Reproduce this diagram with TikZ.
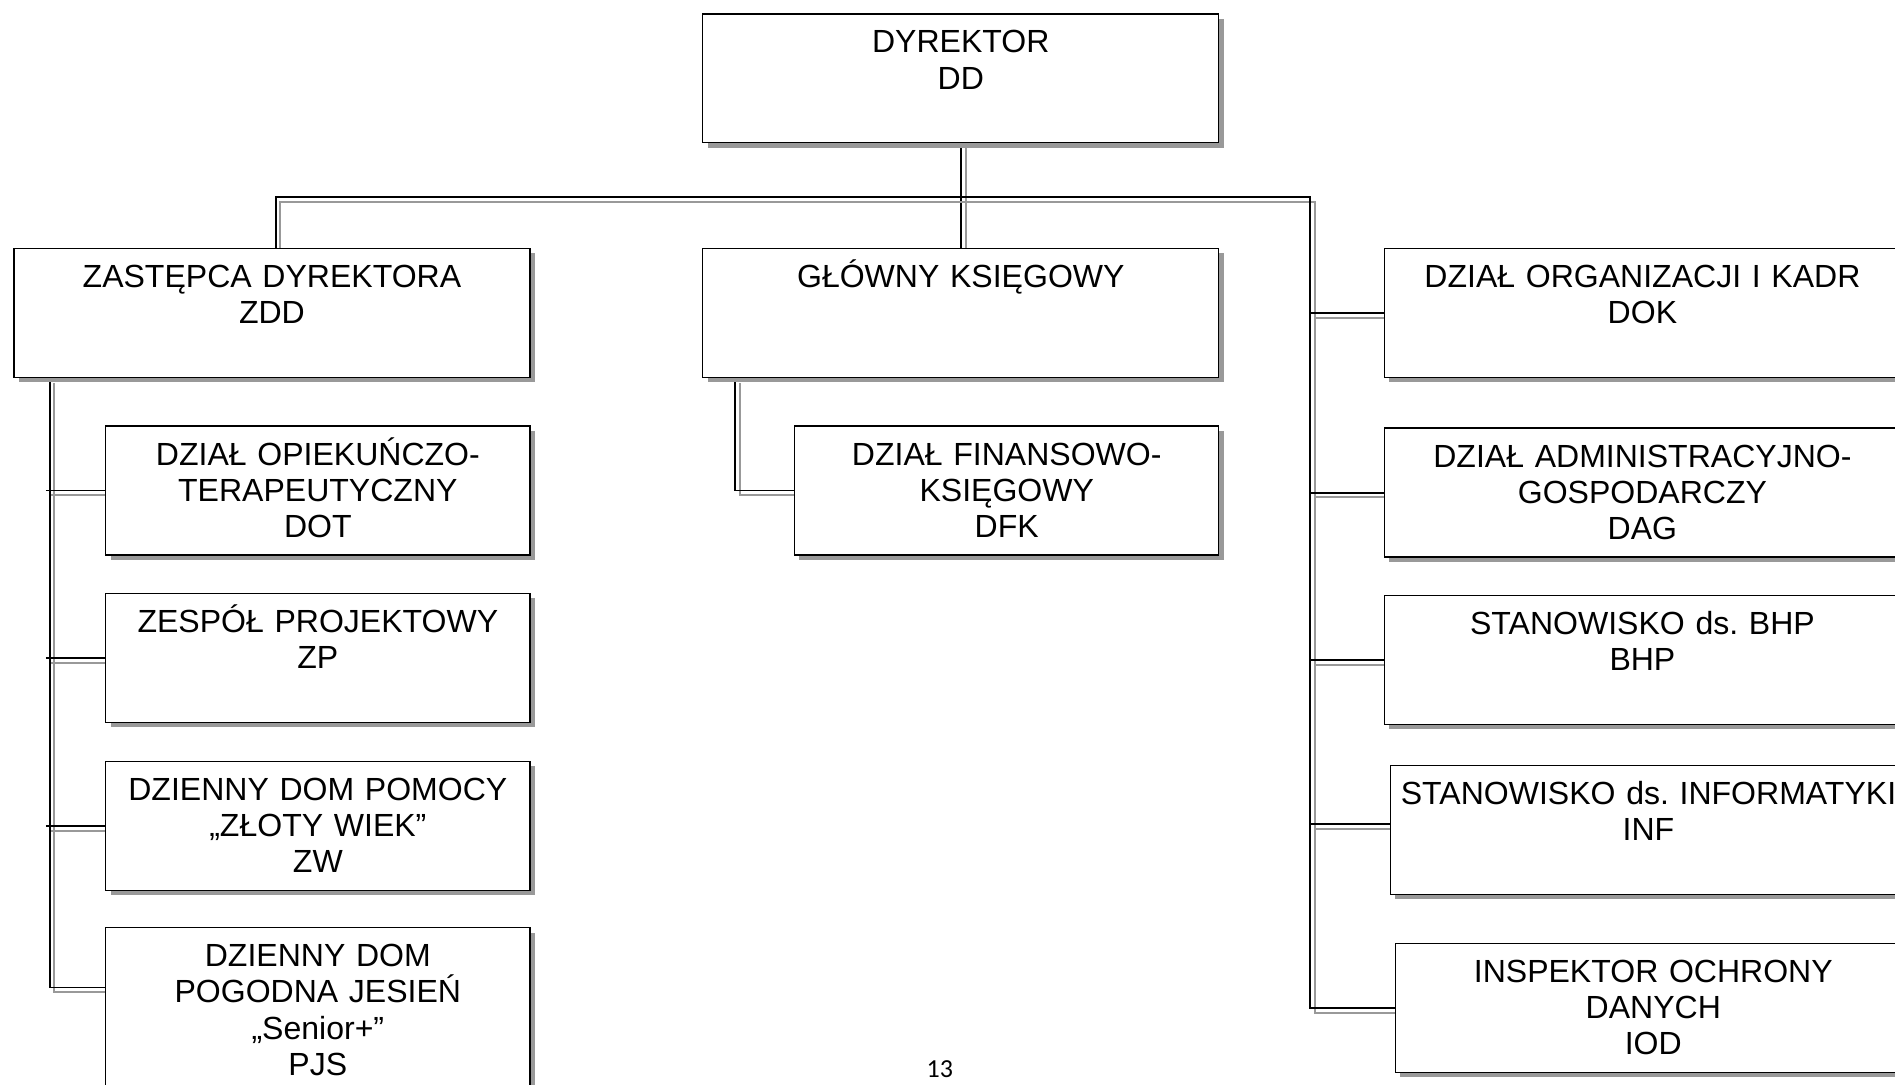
\documentclass[tikz,border=0pt]{standalone}
\usepackage{fontspec}
\setmainfont{Liberation Sans}
\newfontfamily\pagefont{Carlito}
\usetikzlibrary{shapes,positioning,calc,shadows,backgrounds}
\frenchspacing

\begin{document}
\begin{tikzpicture}[x=1pt,y=-1pt]

	\tikzstyle{stdbox}=[draw, rectangle, fill=white, line width=1pt, anchor=north west, align=center, inner xsep=4pt, inner ysep=6pt, text width=419pt, text height=26.3pt, text depth=68.4pt, font=\fontsize{26.5}{30}\selectfont, drop shadow={shadow xshift=4pt, shadow yshift=-4pt, fill=black!40, opacity=1}];
	\tikzstyle{narrow}=[text width=343pt];
	\tikzstyle{link}=[line width=1.6pt, preaction={draw=black!40, line width=1.6pt, transform canvas={shift={(4pt,-4pt)}}}];
	\useasboundingbox (0,0) rectangle (1568,897);

	% top and second row
	\node (dyrektor) at (581,11) [stdbox]{DYREKTOR\\DD};
	\node (zastepca) at (11,205) [stdbox]{ZASTĘPCA DYREKTORA\\ZDD};
	\node (ksiegowy) at (581,205) [stdbox]{GŁÓWNY KSIĘGOWY};
	\node (dok) at (1145,205) [stdbox]{DZIAŁ ORGANIZACJI I KADR\\DOK};

	% under the deputy
	\node (dot) at (87,352) [stdbox, narrow]{DZIAŁ OPIEKUŃCZO-\\TERAPEUTYCZNY\\DOT};
	\node (zp) [stdbox, narrow, below = 31pt of dot]{ZESPÓŁ PROJEKTOWY\\ZP};
	\node (zw) [stdbox, narrow, below = 31pt of zp]{DZIENNY DOM POMOCY\\„ZŁOTY WIEK”\\ZW};
	\node (pjs) [stdbox, narrow, below = 30pt of zw, text depth=98pt]{DZIENNY DOM\\POGODNA JESIEŃ\\„Senior+”\\PJS};

	% under the accountant
	\node (dfk) at (657,352) [stdbox, narrow]{DZIAŁ FINANSOWO-\\KSIĘGOWY\\DFK};

	% right column
	\node (dag) [stdbox, below = 41pt of dok]{DZIAŁ ADMINISTRACYJNO-\\GOSPODARCZY\\DAG};
	\node (bhp) [stdbox, below = 31pt of dag]{STANOWISKO ds. BHP\\BHP};
	\node (inf) at (1150,633) [stdbox]{STANOWISKO ds. INFORMATYKI\\INF};
	\node (iod) at (1154,780) [stdbox]{INSPEKTOR OCHRONY\\DANYCH\\IOD};

	\node (pagenum) at (777.6,891.8) [anchor=base, font=\pagefont\fontsize{21.5}{25}\selectfont]{13};

	\begin{scope}[on background layer]
		\coordinate (rtrunk) at (1084,163);
		\coordinate (ltrunk) at ([xshift=30pt]zastepca.south west);
		\coordinate (infin) at ([yshift=5pt]inf.west);
		\coordinate (pjsin) at ([yshift=-50pt]pjs.north west);

		\draw[link] (dyrektor.south) -- (ksiegowy.north);
		\draw[link] ([xshift=3pt]zastepca.north) |- (rtrunk) |- (iod.west);
		\foreach \n in {dok,dag,bhp}
			\draw[link] (rtrunk |- \n.west) -- (\n.west);
		\draw[link] (rtrunk |- infin) -- (infin);

		\draw[link] (ltrunk) |- (pjsin);
		\foreach \n in {dot,zp,zw}
			\draw[link] ([xshift=-3pt]ltrunk |- \n.west) -- (\n.west);

		\draw[link] ([xshift=27pt]ksiegowy.south west) |- (dfk.west);
	\end{scope}

\end{tikzpicture}
\end{document}
